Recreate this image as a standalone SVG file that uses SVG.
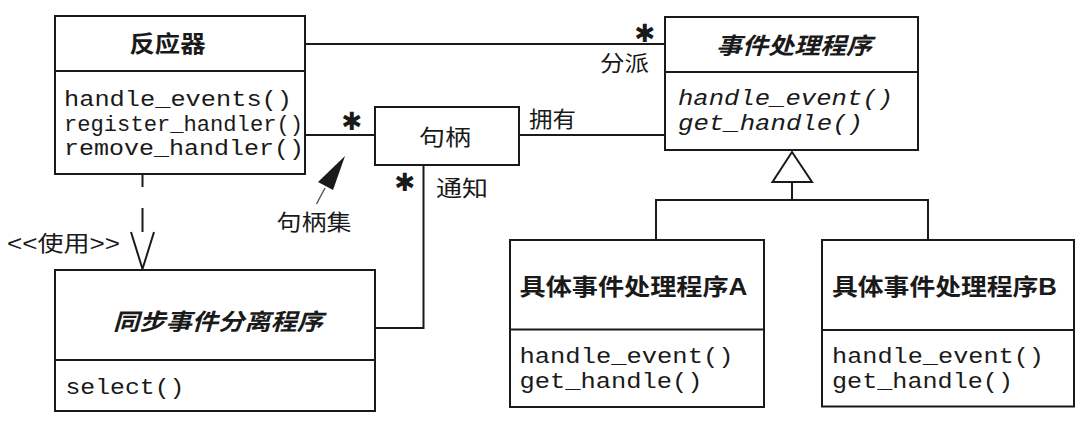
<svg xmlns="http://www.w3.org/2000/svg" width="1091" height="422" viewBox="0 0 1091 422">
<style>
.box{fill:#fff;stroke:#1a1a1a;stroke-width:2}
.div{stroke:#1a1a1a;stroke-width:2}
.ln{fill:none;stroke:#1a1a1a;stroke-width:2}
.cjk{font-family:"Liberation Sans","Noto Sans CJK SC",sans-serif;fill:#1a1a1a}
.title{font-size:23px;font-weight:bold}
.lbl{font-size:22px}
.mono{font-family:"Liberation Mono",monospace;font-size:22px;fill:#1a1a1a}
.it{font-style:italic}
.star{font-family:"DejaVu Sans",sans-serif;font-size:25px;fill:#1a1a1a}
</style>
<rect x="0" y="0" width="1091" height="422" fill="#fff"/>

<g id="connectors">
  <line class="ln" x1="305" y1="44" x2="665" y2="44"/>
  <line class="ln" x1="305" y1="135" x2="375" y2="135"/>
  <line class="ln" x1="519" y1="135" x2="665" y2="135"/>
  <path class="ln" d="M423.5,165 V328 H375"/>
  <path class="ln" d="M142.5,174 V187 M142.5,208 V232"/>
  <path class="ln" d="M131,232 L142.5,269 L154,232"/>
  <polygon points="792,152 772.5,182 812,182" fill="#fff" stroke="#1a1a1a" stroke-width="2"/>
  <path class="ln" d="M792,182 V200 M656,240 V200 H928 V240"/>
  <polygon points="345,156 318,182 333,190" fill="#1a1a1a"/>
  <line x1="325" y1="188" x2="316.5" y2="204" stroke="#555" stroke-width="1.4"/>
  <text class="star" x="352" y="130" text-anchor="middle">✱</text>
  <text class="star" x="405" y="190.5" text-anchor="middle">✱</text>
  <text class="star" x="645" y="41.5" text-anchor="middle">✱</text>
  <text class="cjk lbl" x="649" y="71" text-anchor="end" textLength="49" lengthAdjust="spacingAndGlyphs">分派</text>
  <text class="cjk lbl" x="529" y="127" textLength="47" lengthAdjust="spacingAndGlyphs">拥有</text>
  <text class="cjk lbl" x="436" y="195.5" textLength="52" lengthAdjust="spacingAndGlyphs">通知</text>
  <text class="cjk lbl" x="314" y="230" text-anchor="middle" textLength="75" lengthAdjust="spacingAndGlyphs">句柄集</text>
  <text class="cjk lbl" x="7" y="251" textLength="113" lengthAdjust="spacingAndGlyphs">&lt;&lt;使用&gt;&gt;</text>
</g>

<g id="reactor">
  <rect class="box" x="55" y="16" width="250" height="158"/>
  <line class="div" x1="55" y1="71" x2="305" y2="71"/>
  <text class="cjk title" x="167.5" y="51.5" text-anchor="middle" textLength="76" lengthAdjust="spacingAndGlyphs">反应器</text>
  <text class="mono" x="64" y="106" textLength="228" lengthAdjust="spacingAndGlyphs">handle_events()</text>
  <text class="mono" x="64" y="130.5" textLength="239" lengthAdjust="spacingAndGlyphs">register_handler()</text>
  <text class="mono" x="64" y="155" textLength="240" lengthAdjust="spacingAndGlyphs">remove_handler()</text>
</g>

<g id="event_handler">
  <rect class="box" x="665" y="17" width="253" height="133"/>
  <line class="div" x1="665" y1="72" x2="918" y2="72"/>
  <text class="cjk title it" x="794" y="53.5" text-anchor="middle" textLength="156" lengthAdjust="spacingAndGlyphs">事件处理程序</text>
  <text class="mono it" x="678" y="105" textLength="215" lengthAdjust="spacingAndGlyphs">handle_event()</text>
  <text class="mono it" x="678" y="130" textLength="185" lengthAdjust="spacingAndGlyphs">get_handle()</text>
</g>

<g id="handle">
  <rect class="box" x="375" y="107" width="144" height="58"/>
  <text class="cjk lbl" x="445" y="145" text-anchor="middle" textLength="52" lengthAdjust="spacingAndGlyphs">句柄</text>
</g>

<g id="sync_demux">
  <rect class="box" x="55" y="270" width="320" height="141"/>
  <line class="div" x1="55" y1="360" x2="375" y2="360"/>
  <text class="cjk title it" x="218" y="330" text-anchor="middle" textLength="210" lengthAdjust="spacingAndGlyphs">同步事件分离程序</text>
  <text class="mono" x="65.5" y="394" textLength="119" lengthAdjust="spacingAndGlyphs">select()</text>
</g>

<g id="concrete_a">
  <rect class="box" x="510" y="240" width="254" height="167"/>
  <line class="div" x1="510" y1="329.5" x2="764" y2="329.5"/>
  <text class="cjk title" x="633.5" y="295" text-anchor="middle" textLength="228" lengthAdjust="spacingAndGlyphs">具体事件处理程序A</text>
  <text class="mono" x="519.5" y="362.5" textLength="214" lengthAdjust="spacingAndGlyphs">handle_event()</text>
  <text class="mono" x="519.5" y="388" textLength="183" lengthAdjust="spacingAndGlyphs">get_handle()</text>
</g>

<g id="concrete_b">
  <rect class="box" x="822" y="240" width="252" height="166.5"/>
  <line class="div" x1="822" y1="330" x2="1074" y2="330"/>
  <text class="cjk title" x="944.5" y="295" text-anchor="middle" textLength="225" lengthAdjust="spacingAndGlyphs">具体事件处理程序B</text>
  <text class="mono" x="832" y="362.5" textLength="212" lengthAdjust="spacingAndGlyphs">handle_event()</text>
  <text class="mono" x="832" y="388" textLength="181" lengthAdjust="spacingAndGlyphs">get_handle()</text>
</g>
</svg>
